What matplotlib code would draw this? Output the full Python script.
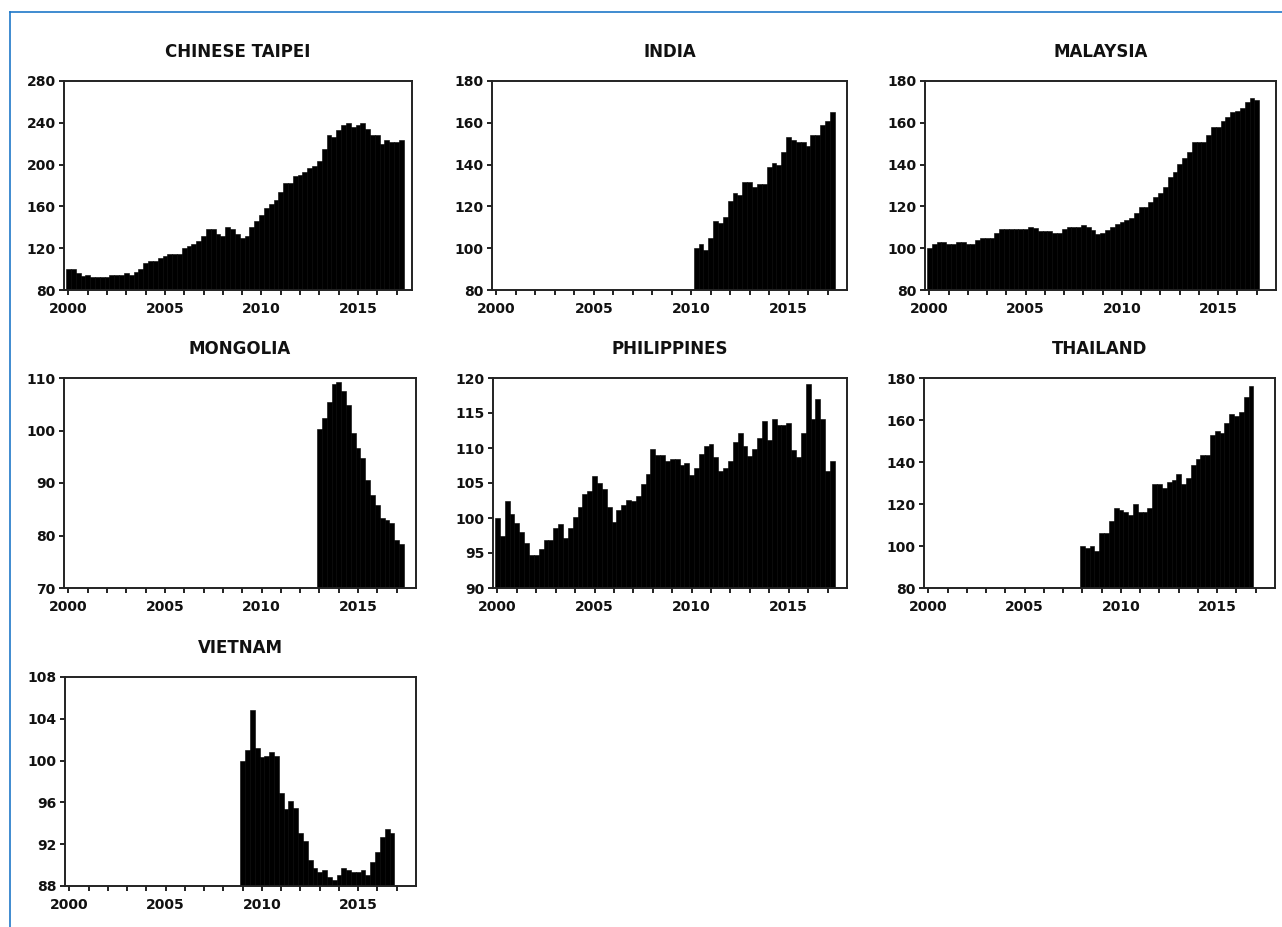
import numpy as np
import matplotlib
matplotlib.use("Agg")
import matplotlib.pyplot as plt
from matplotlib.lines import Line2D

plt.rcParams['font.family'] = ['DejaVu Sans']

# ---------------- data (quarterly index, first quarter = 100) ----------------
taipei_start = (2000, 1)
taipei = [100, 100, 96, 93, 94, 92, 92, 92, 92, 94, 94, 94, 96, 94, 97, 100,
          106, 108, 108, 111, 113, 114, 114, 114, 120, 122, 124, 127, 132, 138,
          138, 134, 132, 140, 138, 134, 130, 132, 140, 146, 152, 158, 162, 166,
          174, 182, 182, 189, 190, 193, 197, 199, 203, 215, 228, 226, 233, 238,
          240, 236, 238, 240, 234, 228, 228, 220, 224, 222, 222, 224]

india_start = (2010, 2)
india = [100, 102, 99, 105, 113, 112, 115, 122.5, 126.5, 125.5, 131.5, 131.5,
         129.5, 130.5, 130.5, 139, 141, 140, 146, 153, 152, 151, 151, 149, 154,
         154, 159, 161, 165]

malaysia_start = (2000, 1)
malaysia = [100, 102, 103, 103, 102, 102, 103, 103, 102, 102, 104, 105, 105,
            105, 107.5, 109, 109, 109, 109, 109, 109, 110, 109.5, 108.3, 108,
            108, 107.5, 107.5, 109, 110, 110, 110, 111, 110, 108.5, 107, 107.5,
            108.5, 110, 111.5, 112.3, 113.4, 114.5, 117, 119.5, 119.5, 122,
            124.5, 126.5, 129.5, 134, 136.5, 140.5, 143, 146, 151, 151, 151,
            154, 158, 158, 161, 163, 165, 165.5, 167, 170, 172, 171]

mongolia_start = (2013, 1)
mongolia = [100.3, 102.3, 105.5, 108.8, 109.2, 107.6, 104.9, 99.5, 96.6, 94.7,
            90.6, 87.7, 85.8, 83.4, 82.9, 82.4, 79.2, 78.4]

philippines_start = (2000, 1)
philippines = [100, 97.5, 102.4, 100.6, 99.3, 98.0, 96.5, 94.7, 94.7, 95.6,
               96.8, 96.8, 98.6, 99.2, 97.1, 98.6, 100.2, 101.6, 103.5, 103.8,
               106.0, 105.0, 104.2, 101.6, 99.4, 101.1, 101.8, 102.6, 102.4,
               103.2, 104.8, 106.3, 109.9, 109.0, 109.0, 108.1, 108.5, 108.5,
               107.6, 107.9, 106.2, 107.2, 109.1, 110.3, 110.6, 108.7, 106.7,
               107.2, 108.2, 110.9, 112.1, 110.3, 108.8, 109.9, 111.5, 113.9,
               111.1, 114.2, 113.3, 113.3, 113.6, 109.7, 108.7, 112.1, 119.2,
               114.2, 117.0, 114.2, 106.7, 108.1]

thailand_start = (2008, 1)
thailand = [100, 99, 100, 97.5, 106, 106, 112, 118, 117, 116, 115, 120, 116,
            116, 118, 129.5, 129.5, 127.5, 130.5, 131.5, 134.5, 129.5, 132.5,
            138.5, 141.5, 143.5, 143.5, 153, 155, 154, 158.5, 163, 162, 164,
            171, 176]

vietnam_start = (2009, 1)
vietnam = [100, 101, 104.8, 101.2, 100.3, 100.4, 100.8, 100.4, 96.9, 95.4,
           96.1, 95.5, 93.1, 92.3, 90.5, 89.7, 89.3, 89.5, 88.9, 88.6, 89.05,
           89.7, 89.5, 89.3, 89.3, 89.5, 89.05, 90.3, 91.3, 92.7, 93.5, 93.1]

titles = ["CHINESE TAIPEI", "INDIA", "MALAYSIA", "MONGOLIA", "PHILIPPINES",
          "THAILAND", "VIETNAM"]
series = [taipei, india, malaysia, mongolia, philippines, thailand, vietnam]
starts = [taipei_start, india_start, malaysia_start, mongolia_start,
          philippines_start, thailand_start, vietnam_start]
y_ticks = [[80, 120, 160, 200, 240, 280],
           [80, 100, 120, 140, 160, 180],
           [80, 100, 120, 140, 160, 180],
           [70, 80, 90, 100, 110],
           [90, 95, 100, 105, 110, 115, 120],
           [80, 100, 120, 140, 160, 180],
           [88, 92, 96, 100, 104, 108]]
year_labels = [2000, 2005, 2010, 2015]
year_ticks = list(range(2000, 2018))

# ---------------- layout (pixels) ----------------
W, H = 1282, 927
fig = plt.figure(figsize=(W / 100, H / 100), dpi=100)

# left, top, right, bottom in pixels
boxes = [(64, 81, 412, 290), (492, 81, 847, 290), (925, 81, 1276, 290),
         (64, 378, 416, 588), (493, 378, 847, 588), (924, 378, 1275, 588),
         (65, 677, 416, 886)]
xright = [2017.8, 2018.0, 2018.0, 2018.0, 2018.0, 2018.0, 2018.0]

for i, (vals, st, title, yt) in enumerate(zip(series, starts, titles, y_ticks)):
    l, t, r, b = boxes[i]
    ax = fig.add_axes([l / W, 1 - b / H, (r - l) / W, (b - t) / H])
    x = st[0] + (st[1] - 1) / 4 + np.arange(len(vals)) / 4
    ax.bar(x, vals, width=0.25, color='black', edgecolor='black',
           linewidth=0.4, align='center')
    ax.set_xlim(1999.77, xright[i])
    ax.set_ylim(yt[0], yt[-1])
    ax.set_yticks(yt)
    ax.set_xticks(year_ticks)
    ax.set_xticklabels([str(y) if y in year_labels else '' for y in year_ticks])
    for s in ax.spines.values():
        s.set_linewidth(1.4)
        s.set_color('#222222')
    ax.tick_params(axis='both', direction='out', length=3.5, width=1.4,
                   color='#222222', labelsize=10)
    ax.tick_params(axis='y', pad=2.5)
    ax.tick_params(axis='x', pad=5)
    ax.tick_params(top=False, right=False)
    for lab in ax.get_xticklabels() + ax.get_yticklabels():
        lab.set_fontweight('bold')
        lab.set_color('#111111')
    fig.text((l + r) / 2 / W, 1 - (t - 29) / H, title, ha='center',
             va='center', fontsize=12, fontweight='bold', color='#111111')

# blue frame around the exhibit
fig.add_artist(Line2D([10 / W, 1.0], [1 - 12 / H, 1 - 12 / H],
                      transform=fig.transFigure, color='#1f78c8', lw=1.2))
fig.add_artist(Line2D([10 / W, 10 / W], [1 - 12 / H, 0.0],
                      transform=fig.transFigure, color='#1f78c8', lw=1.2))

fig.savefig('out.png', dpi=100)
